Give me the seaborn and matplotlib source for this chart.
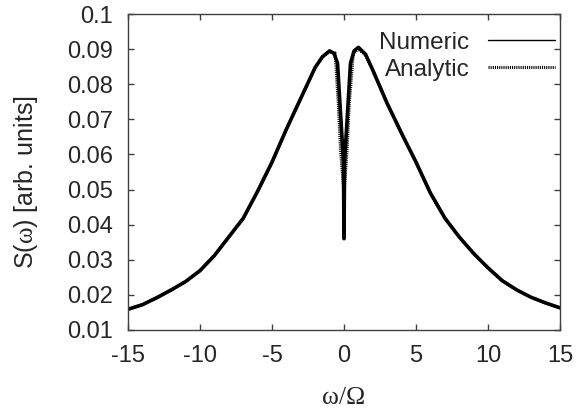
import numpy as np
import matplotlib
matplotlib.use("Agg")
import matplotlib.pyplot as plt
import seaborn as sns

# values
num_w = [-15, -14, -13, -12, -11, -10, -9, -8, -7, -6, -5, -4, -3, -2, -1.5, -1.0,
         -0.7, -0.45, -0.04, 0.0, 0.04, 0.45, 0.7, 1.0, 1.5, 2, 3, 4, 5, 6, 7, 8,
         9, 10, 11, 12, 13, 14, 15]
num_s = [0.0159, 0.0172, 0.0192, 0.0214, 0.0238, 0.0269, 0.0312, 0.0365, 0.0418,
         0.0495, 0.0578, 0.0672, 0.0760, 0.0848, 0.0878, 0.0895,
         0.0888, 0.0860, 0.0580, 0.0360, 0.0580, 0.0860, 0.0895, 0.0905, 0.0885,
         0.0840, 0.0745, 0.0660, 0.0578, 0.0490, 0.0419, 0.0365, 0.0318, 0.0277,
         0.0240, 0.0214, 0.0193, 0.0177, 0.0163]

ana_w = [-15, -14, -13, -12, -11, -10, -9, -8, -7, -6, -5, -4, -3, -2, -1.5, -1.0,
         -0.62, -0.4, -0.23, 0.0, 0.2, 0.37, 0.65, 1.0, 1.5, 2, 3, 4, 5, 6, 7, 8,
         9, 10, 11, 12, 13, 14, 15]
ana_s = [0.0159, 0.0172, 0.0192, 0.0214, 0.0238, 0.0269, 0.0312, 0.0365, 0.0418,
         0.0495, 0.0578, 0.0672, 0.0760, 0.0848, 0.0878, 0.0893,
         0.0889, 0.0747, 0.0604, 0.0490, 0.0604, 0.0747, 0.0889, 0.0900, 0.0883,
         0.0840, 0.0745, 0.0660, 0.0578, 0.0490, 0.0419, 0.0365, 0.0318, 0.0277,
         0.0240, 0.0214, 0.0193, 0.0177, 0.0163]

x_ticks = [-15, -10, -5, 0, 5, 10, 15]
y_ticks = [0.01, 0.02, 0.03, 0.04, 0.05, 0.06, 0.07, 0.08, 0.09, 0.1]
y_tick_labels = ["0.01", "0.02", "0.03", "0.04", "0.05", "0.06", "0.07", "0.08", "0.09", "0.1"]

sns.set_style("ticks")
plt.rcParams['font.family'] = ['Liberation Sans', 'DejaVu Sans']
plt.rcParams['mathtext.fontset'] = 'custom'
plt.rcParams['mathtext.rm'] = 'Liberation Serif'
plt.rcParams['mathtext.it'] = 'Liberation Serif'

hatch = (0, (0.35, 0.35))

fig = plt.figure(figsize=(5.88, 4.13), dpi=100)
ax = fig.add_axes([0.2177, 0.201, 0.7347, 0.7651])

sns.lineplot(x=num_w, y=num_s, ax=ax, color='black', lw=2.6, sort=False,
             estimator=None, label='Numeric')
sns.lineplot(x=ana_w, y=ana_s, ax=ax, color='black', lw=2.2, sort=False,
             estimator=None, label='Analytic')
ax.lines[1].set_linestyle(hatch)

ax.set_xlim(-15, 15)
ax.set_ylim(0.01, 0.1)
ax.set_xticks(x_ticks)
ax.set_xticklabels([str(t) for t in x_ticks])
ax.set_yticks(y_ticks)
ax.set_yticklabels(y_tick_labels)
ax.tick_params(direction='in', length=4, width=1, color='#404040', labelsize=17,
               top=True, right=True, pad=11)
for s in ax.spines.values():
    s.set_visible(True)
    s.set_color('#404040')
    s.set_linewidth(1)

ax.set_xlabel('ω/Ω', family='Liberation Serif', fontsize=18.5)
ax.set_ylabel(r'S($\mathrm{\omega}$) [arb. units]', fontsize=18)
ax.xaxis.set_label_coords(0.5, -0.182)
ax.yaxis.set_label_coords(-0.203, 0.468)

leg = ax.legend(loc='upper right', bbox_to_anchor=(1.01, 0.975), frameon=False,
                markerfirst=False, fontsize=17.5, handlelength=2.75, handletextpad=0.75,
                labelspacing=0.2, borderaxespad=0)
leg.get_lines()[0].set_linewidth(1)
leg.get_lines()[1].set_linestyle(hatch)

fig.savefig('out.png', dpi=100)
